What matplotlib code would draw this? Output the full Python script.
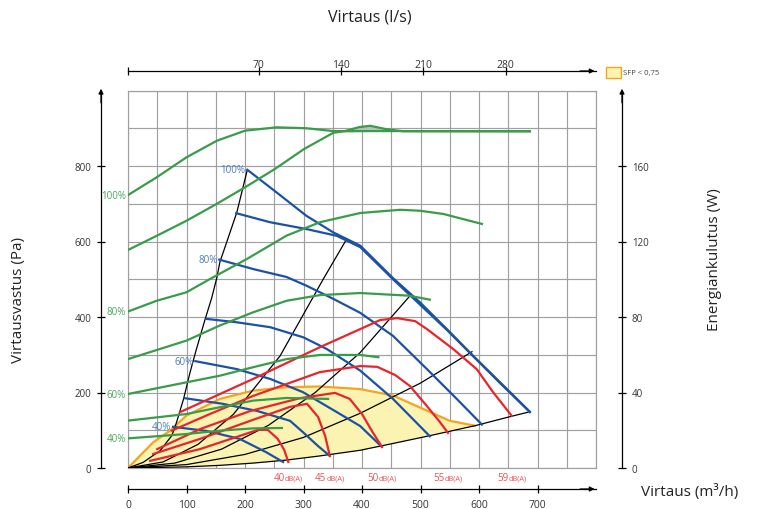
import matplotlib.pyplot as plt
from matplotlib.patches import Rectangle

plt.rcParams['font.family'] = ['Open Sans', 'DejaVu Sans']

# --- data: flow in m3/h, pressure in Pa, power in W ---

# fan curves (blue), control voltage %
fan_100_q = [204, 254, 305, 351, 397, 453, 499, 545, 590, 636, 687]
fan_100_p = [790, 730, 668, 624, 589, 503, 439, 368, 297, 227, 149]
fan_90_q = [185, 243, 305, 357, 397, 453, 545, 636, 687]
fan_90_p = [675, 651, 633, 615, 585, 500, 366, 225, 148]
fan_80_q = [156, 214, 271, 305, 351, 397, 453, 511, 562, 605]
fan_80_p = [552, 527, 506, 483, 448, 411, 350, 262, 183, 115]
fan_70_q = [134, 186, 243, 300, 340, 397, 453, 516]
fan_70_p = [395, 386, 373, 346, 315, 258, 183, 84]
fan_60_q = [115, 186, 243, 299, 357, 397, 434]
fan_60_p = [283, 262, 236, 201, 148, 111, 56]
fan_50_q = [97, 162, 221, 277, 299, 325, 345]
fan_50_p = [185, 170, 151, 125, 95, 58, 32]
fan_40_q = [77, 135, 191, 236, 265]
fan_40_p = [109, 98, 77, 42, 16]

# system curves (black)
sys_1_q = [0, 26, 55, 75, 83, 95, 106, 117, 132, 143, 152, 157, 186, 204]
sys_1_p = [0, 15, 46, 86, 121, 183, 253, 315, 395, 450, 505, 545, 677, 790]
sys_2_q = [0, 60, 120, 180, 260, 334, 374]
sys_2_p = [0, 16, 63, 142, 297, 501, 607]
sys_3_q = [0, 80, 160, 240, 320, 397, 482]
sys_3_p = [0, 13, 50, 113, 200, 306, 456]
sys_4_q = [0, 100, 200, 300, 397, 500, 588]
sys_4_p = [0, 9, 36, 81, 145, 225, 308]
sys_5_q = [0, 100, 157, 214, 271, 328, 397, 453, 511, 593, 653, 687]
sys_5_p = [0, 3, 7, 13, 21, 32, 47, 65, 84, 112, 136, 149]

# sound level curves (red)
snd_40_q = [38, 123, 191, 222, 239, 256, 267, 274]
snd_40_p = [19, 50, 85, 101, 101, 77, 48, 16]
snd_45_q = [43, 123, 209, 277, 306, 325, 337, 345]
snd_45_p = [37, 77, 125, 162, 170, 135, 85, 32]
snd_50_q = [50, 123, 209, 294, 354, 379, 400, 417, 434]
snd_50_p = [50, 103, 151, 185, 199, 183, 143, 98, 56]
snd_55_q = [75, 140, 214, 328, 397, 426, 457, 482, 511, 533, 547]
snd_55_p = [99, 143, 191, 254, 270, 268, 246, 217, 164, 122, 93]
snd_59_q = [89, 214, 328, 397, 431, 460, 491, 511, 556, 596, 624, 656]
snd_59_p = [148, 236, 320, 368, 392, 397, 389, 368, 315, 262, 201, 138]
snd_labels = ['40', '45', '50', '55', '59']

# SFP < 0.75 area, upper edge (orange)
sfp_q = [0, 43, 72, 100, 157, 214, 271, 328, 397, 453, 511, 550, 593]
sfp_p = [0, 68, 99, 139, 183, 205, 214, 216, 209, 192, 152, 125, 112]

# power curves (green, right axis W)
pw_100_q = [0, 49, 100, 152, 200, 254, 305, 351, 397, 465, 687]
pw_100_w = [144.6, 154, 164.6, 173.4, 178.7, 180.5, 180, 178.5, 178.5, 178.5, 178.4]
pw_90_q = [0, 49, 100, 152, 200, 251, 301, 351, 372, 395, 414, 440, 470, 687]
pw_90_w = [115.5, 123, 131, 140, 148.7, 158.4, 169, 177.6, 178.6, 180.6, 181.3, 179.6, 178.4, 178.4]
pw_80_q = [0, 49, 100, 140, 203, 271, 328, 397, 465, 499, 539, 605]
pw_80_w = [82.9, 88.6, 93.1, 100.1, 110.7, 123.1, 130.2, 135.1, 136.8, 136.3, 134.6, 129.3]
pw_70_q = [0, 100, 157, 214, 271, 328, 397, 480, 516]
pw_70_w = [57.7, 67.5, 75.5, 82.5, 88.6, 91.6, 92.7, 91.3, 89.2]
pw_60_q = [0, 100, 157, 214, 271, 328, 397, 428]
pw_60_w = [39.2, 45.4, 48.9, 53.4, 57.7, 59.9, 59.9, 58.7]
pw_50_q = [0, 100, 157, 214, 271, 342]
pw_50_w = [25.1, 28.6, 32.2, 35.7, 37.1, 36.6]
pw_40_q = [0, 100, 157, 214, 263]
pw_40_w = [15.7, 18, 19.8, 21, 21.2]

left_ticks = [0, 200, 400, 600, 800]
right_ticks = [0, 40, 80, 120, 160]
bottom_ticks = [0, 100, 200, 300, 400, 500, 600, 700]
top_ticks = [70, 140, 210, 280]

BLUE = '#1c52a3'
BLUE_TXT = '#4b7dc2'
GREEN = '#3a9b4a'
GREEN_TXT = '#4aa65c'
RED = '#e8252b'
RED_TXT = '#e85555'
ORANGE = '#f7a41d'
YELLOW = '#fbf3b2'
GRID = '#a0a0a0'

W, H = 762, 510
def fx(px):
    return px / W
def fy(py):
    return 1 - py / H

fig = plt.figure(figsize=(7.62, 5.10), dpi=100)

# main grid axes
ax = fig.add_axes([fx(128), fy(469), (596 - 128) / W, (469 - 91.5) / H])
ax.set_xlim(0, 800)
ax.set_ylim(0, 1000)
ax.set_xticks(range(0, 801, 50))
ax.set_yticks(range(0, 1001, 100))
ax.tick_params(length=0, labelbottom=False, labelleft=False)
ax.grid(color=GRID, lw=0.85)
ax.set_axisbelow(True)
for s in ax.spines.values():
    s.set_color(GRID)
    s.set_linewidth(0.85)

# SFP area
poly_q = sfp_q + [q for q in reversed(sys_5_q) if q <= sfp_q[-1]]
poly_p = sfp_p + [p for q, p in zip(reversed(sys_5_q), reversed(sys_5_p)) if q <= sfp_q[-1]]
ax.fill(poly_q, poly_p, color=YELLOW, zorder=1, lw=0)
ax.plot(sfp_q, sfp_p, color=ORANGE, lw=1.6, zorder=2)

for q, p in [(sys_1_q, sys_1_p), (sys_2_q, sys_2_p), (sys_3_q, sys_3_p),
             (sys_4_q, sys_4_p), (sys_5_q, sys_5_p)]:
    ax.plot(q, p, color='black', lw=0.9, zorder=3)

fans = [(fan_100_q, fan_100_p, '100%'), (fan_90_q, fan_90_p, None),
        (fan_80_q, fan_80_p, '80%'), (fan_70_q, fan_70_p, None),
        (fan_60_q, fan_60_p, '60%'), (fan_50_q, fan_50_p, None),
        (fan_40_q, fan_40_p, '40%')]
for q, p, lab in fans:
    ax.plot(q, p, color=BLUE, lw=1.6, zorder=4, solid_joinstyle='round')
    if lab:
        ax.text(q[0] - 3, p[0], lab, color=BLUE_TXT, fontsize=7, ha='right', va='center')

snds = [(snd_40_q, snd_40_p), (snd_45_q, snd_45_p), (snd_50_q, snd_50_p),
        (snd_55_q, snd_55_p), (snd_59_q, snd_59_p)]
for (q, p), lab in zip(snds, snd_labels):
    ax.plot(q, p, color=RED, lw=1.6, zorder=5, solid_joinstyle='round')
    ax.text(q[-1] - 6, -26, lab, color=RED_TXT, fontsize=7, ha='right', va='center', clip_on=False)
    ax.text(q[-1] - 6, -27, 'dB(A)', color=RED_TXT, fontsize=5.3, ha='left', va='center', clip_on=False)

# power curves on the right scale
ax2 = ax.twinx()
ax2.set_ylim(0, 200)
ax2.set_axis_off()
hump = [(q, w) for q, w in zip(pw_90_q, pw_90_w) if 351 <= q <= 470]
ax2.fill([h[0] for h in hump], [h[1] for h in hump], color='#b9c2b9', lw=0, zorder=1)
pw = [(pw_100_q, pw_100_w, '100%'), (pw_90_q, pw_90_w, None),
      (pw_80_q, pw_80_w, '80%'), (pw_70_q, pw_70_w, None),
      (pw_60_q, pw_60_w, '60%'), (pw_50_q, pw_50_w, None),
      (pw_40_q, pw_40_w, '40%')]
for q, w, lab in pw:
    ax2.plot(q, w, color=GREEN, lw=1.6, zorder=6, solid_joinstyle='round')
    if lab:
        ax2.text(-3, w[0], lab, color=GREEN_TXT, fontsize=7, ha='right', va='center')

# left axis (Pa)
h_ax = (469 - 91.5) / H
axl = fig.add_axes([fx(101), fy(469), 1e-4, h_ax])
axl.set_ylim(0, 1000)
axl.set_xticks([])
axl.set_yticks(left_ticks)
for k in ['top', 'bottom', 'right']:
    axl.spines[k].set_visible(False)
axl.spines['left'].set_linewidth(0.9)
axl.tick_params(axis='y', direction='inout', length=6, width=0.9, labelsize=7, pad=4, labelcolor='#333333')
axl.annotate('', xy=(0, 1.012), xytext=(0, 0.96), xycoords='axes fraction',
             arrowprops=dict(arrowstyle='-|>', color='black', lw=0.9, mutation_scale=7))

# right axis (W)
axr = fig.add_axes([fx(622), fy(469), 1e-4, h_ax])
axr.set_ylim(0, 200)
axr.set_xticks([])
axr.yaxis.tick_right()
axr.set_yticks(right_ticks)
for k in ['top', 'bottom', 'left']:
    axr.spines[k].set_visible(False)
axr.spines['right'].set_linewidth(0.9)
axr.tick_params(axis='y', direction='inout', length=6, width=0.9, labelsize=7, pad=4, labelcolor='#333333')
axr.annotate('', xy=(0, 1.012), xytext=(0, 0.96), xycoords='axes fraction',
             arrowprops=dict(arrowstyle='-|>', color='black', lw=0.9, mutation_scale=7))

# bottom axis (m3/h)
axb = fig.add_axes([fx(128), fy(490), (596 - 128) / W, 1e-4])
axb.set_xlim(0, 800)
axb.set_yticks([])
axb.set_xticks(bottom_ticks)
for k in ['top', 'left', 'right']:
    axb.spines[k].set_visible(False)
axb.spines['bottom'].set_linewidth(0.9)
axb.tick_params(axis='x', direction='inout', length=6, width=0.9, labelsize=7.5, pad=4, labelcolor='#333333')
axb.annotate('', xy=(1.003, 0), xytext=(0.96, 0), xycoords='axes fraction',
             arrowprops=dict(arrowstyle='-|>', color='black', lw=0.9, mutation_scale=7))

# top axis (l/s), drawn as in the original sheet
axt = fig.add_axes([fx(128), fy(72), (596 - 128) / W, 1e-4])
axt.set_xlim(-41.3, 356.7)
axt.set_yticks([])
axt.set_xticks([-41.3] + top_ticks)
axt.set_xticklabels([''] + [str(t) for t in top_ticks])
for k in ['top', 'left', 'right']:
    axt.spines[k].set_visible(False)
axt.spines['bottom'].set_linewidth(0.9)
axt.tick_params(axis='x', direction='inout', length=6, width=0.9, labelsize=7.5, pad=-2,
                labelbottom=False, labeltop=True, top=False, labelcolor='#333333')
axt.annotate('', xy=(1.003, 0), xytext=(0.96, 0), xycoords='axes fraction',
             arrowprops=dict(arrowstyle='-|>', color='black', lw=0.9, mutation_scale=7))

# titles
fig.text(fx(370), fy(18), 'Virtaus (l/s)', ha='center', va='center', fontsize=11.5, color='#222222')
fig.text(fx(641), fy(492), 'Virtaus (m³/h)', ha='left', va='center', fontsize=11, color='#222222')
fig.text(fx(19), fy(300), 'Virtausvastus (Pa)', ha='center', va='center', rotation=90, fontsize=11, color='#222222')
fig.text(fx(714), fy(260), 'Energiankulutus (W)', ha='center', va='center', rotation=90, fontsize=11, color='#222222')

# SFP legend
fig.patches.append(Rectangle((fx(606), fy(78.5)), 15 / W, 10.5 / H, transform=fig.transFigure,
                             facecolor=YELLOW, edgecolor=ORANGE, lw=1))
fig.text(fx(623), fy(73.5), 'SFP < 0,75', ha='left', va='center', fontsize=5.5, color='#444444')

fig.savefig('out.png', dpi=100)
